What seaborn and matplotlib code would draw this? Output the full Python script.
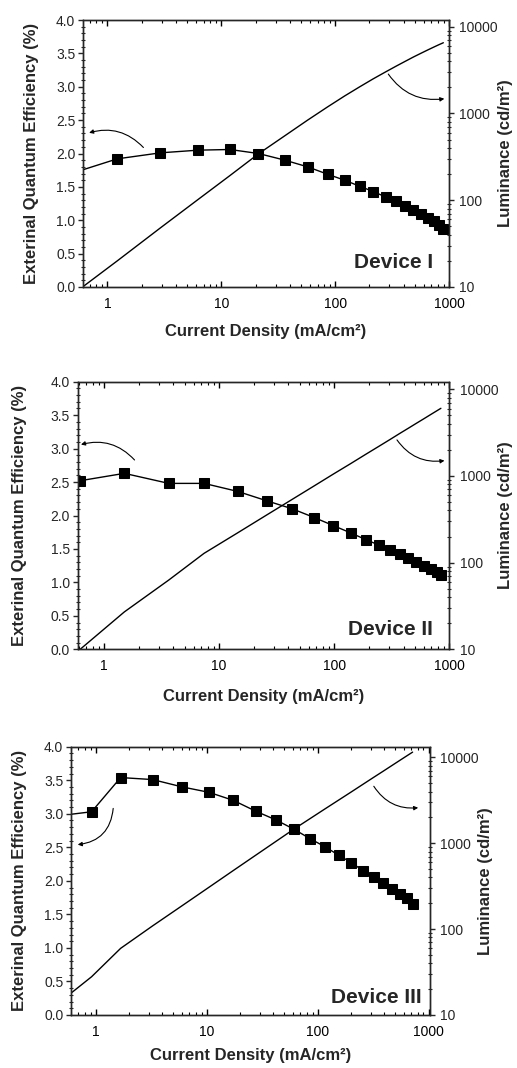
import numpy as np
import pandas as pd
import matplotlib
matplotlib.use('Agg')
import matplotlib.pyplot as plt
import matplotlib.ticker as mticker
import seaborn as sns

sns.set_style('ticks')
plt.rcParams['font.family'] = ['Liberation Sans', 'DejaVu Sans']
plt.rcParams['axes.linewidth'] = 1.0

# Device I
j1 = [0.5, 1.22, 2.92, 6.26, 11.9, 21.2, 36.2, 57.3, 85.7, 121, 164, 216, 277,
      342, 413, 487, 570, 655, 743, 822, 892]
eqe1 = [1.71, 1.92, 2.01, 2.05, 2.06, 2.00, 1.90, 1.80, 1.69, 1.60, 1.51, 1.43,
        1.35, 1.29, 1.22, 1.16, 1.09, 1.04, 0.99, 0.93, 0.87]
lum1 = [8.3, 20, 48, 102, 192, 342, 553, 836, 1186, 1585, 2020, 2500, 3000,
        3490, 3980, 4460, 4940, 5400, 5840, 6210, 6510]

# Device II
j2 = [0.62, 1.50, 3.65, 7.39, 14.5, 25.9, 43.2, 66.9, 98, 139, 188, 243, 303,
      370, 441, 518, 600, 691, 775, 845]
eqe2 = [2.52, 2.63, 2.48, 2.48, 2.36, 2.22, 2.10, 1.97, 1.85, 1.74, 1.64, 1.56,
        1.48, 1.42, 1.36, 1.31, 1.25, 1.20, 1.15, 1.11]
lum2 = [10, 27, 63, 128, 221, 355, 538, 768, 1050, 1390, 1780, 2190, 2620,
        3090, 3560, 4060, 4570, 5130, 5630, 6040]

# Device III
j3 = [0.52, 0.92, 1.68, 3.26, 6.04, 10.5, 17.4, 27.6, 41.9, 61.2, 85.3, 116,
      156, 202, 258, 322, 391, 468, 548, 634, 718]
eqe3 = [2.98, 3.03, 3.54, 3.51, 3.40, 3.32, 3.20, 3.04, 2.91, 2.77, 2.63, 2.51,
        2.38, 2.27, 2.15, 2.06, 1.97, 1.88, 1.81, 1.74, 1.66]
lum3 = [15.5, 27.9, 59.7, 109, 188, 307, 481, 723, 1045, 1460, 1930, 2500,
        3200, 3970, 4880, 5880, 6910, 8040, 9180, 10370, 11500]

devices = ['Device I', 'Device II', 'Device III']
xlabel = 'Current Density (mA/cm²)'
ylabel = 'Exterinal Quantum Efficiency (%)'
y2label = 'Luminance (cd/m²)'

# panel boxes in pixels: left, right, top, bottom
W, H = 517, 1068
boxes = [(83, 449, 20, 287), (77.7, 449.3, 381.7, 649.3), (71, 430, 746.7, 1015)]
xlims = [(0.61, 1000), (0.59, 1000), (0.6, 1030)]
y2lims = [(10, 11900), (10, 12250), (10, 13300)]
text_pos = [(0.956, 0.071), (0.957, 0.053), (0.977, 0.046)]
# label anchors in axes coords: (xlabel y, ylabel x, y2label x)
label_pos = [(-0.137, -0.119, 1.134), (-0.150, -0.136, 1.131), (-0.123, -0.1226, 1.1326)]
# arrows: (xytext, xy, rad) in data coords of EQE axis
arrows = [
    [((2.07, 2.09), (0.69, 2.31), 0.3), ((293, 3.19), (910, 2.82), 0.3)],
    [((1.84, 2.83), (0.63, 3.06), 0.3), ((351, 3.13), (908, 2.82), 0.3)],
    [((1.44, 3.08), (0.69, 2.54), -0.4), ((321, 3.41), (806, 3.09), 0.3)],
]

data = [(j1, eqe1, lum1), (j2, eqe2, lum2), (j3, eqe3, lum3)]

fig = plt.figure(figsize=(W / 100, H / 100), dpi=100)

for i, (j, eqe, lum) in enumerate(data):
    l, r, t, b = boxes[i]
    ax = fig.add_axes([l / W, 1 - b / H, (r - l) / W, (b - t) / H])
    ax.set_xscale('log')
    ax2 = ax.twinx()
    ax2.set_yscale('log')

    df = pd.DataFrame({'J': j, 'EQE': eqe, 'L': lum})
    sns.lineplot(data=df, x='J', y='L', ax=ax2, color='black', lw=1.0,
                 sort=False, estimator=None)
    sns.lineplot(data=df, x='J', y='EQE', ax=ax, color='black', lw=1.0,
                 marker='s', markersize=6.5, markeredgecolor='black',
                 sort=False, estimator=None)

    ax.set_xlim(*xlims[i])
    ax.set_ylim(0, 4)
    ax2.set_ylim(*y2lims[i])

    ax.xaxis.set_major_locator(mticker.FixedLocator([1, 10, 100, 1000]))
    ax.xaxis.set_major_formatter(mticker.FormatStrFormatter('%g'))
    ax.xaxis.set_minor_locator(mticker.LogLocator(base=10, subs=np.arange(2, 10)))
    ax.xaxis.set_minor_formatter(mticker.NullFormatter())
    ax.yaxis.set_major_locator(mticker.MultipleLocator(0.5))
    ax.yaxis.set_minor_locator(mticker.MultipleLocator(0.1))
    ax.yaxis.set_major_formatter(mticker.FormatStrFormatter('%.1f'))
    ax2.yaxis.set_major_locator(mticker.FixedLocator([10, 100, 1000, 10000]))
    ax2.yaxis.set_major_formatter(mticker.FormatStrFormatter('%g'))
    ax2.yaxis.set_minor_locator(mticker.LogLocator(base=10, subs=np.arange(2, 10)))
    ax2.yaxis.set_minor_formatter(mticker.NullFormatter())

    ax.tick_params(axis='x', which='both', direction='in', top=True,
                   labelsize=10, pad=7, colors='black')
    ax.tick_params(axis='x', which='major', length=4, width=1)
    ax.tick_params(axis='x', which='minor', length=2.5, width=0.8)
    ax.tick_params(axis='y', which='major', direction='out', length=3.5,
                   width=1, labelsize=10, pad=2)
    ax.tick_params(axis='y', which='minor', direction='inout', length=3,
                   width=0.8)
    ax2.tick_params(axis='y', which='major', direction='out', length=3.5,
                    width=1, labelsize=10, pad=4)
    ax2.tick_params(axis='y', which='minor', direction='inout', length=3,
                    width=0.8)

    ax.set_xlabel(xlabel, fontsize=12, fontweight='bold')
    ax.set_ylabel(ylabel, fontsize=12, fontweight='bold')
    ax2.set_ylabel(y2label, fontsize=12, fontweight='bold')
    ax.xaxis.set_label_coords(0.5, label_pos[i][0])
    ax.yaxis.set_label_coords(label_pos[i][1], 0.5)
    ax2.yaxis.set_label_coords(label_pos[i][2], 0.5)

    ax.text(text_pos[i][0], text_pos[i][1], devices[i], transform=ax.transAxes,
            ha='right', va='baseline', fontsize=15, fontweight='bold')

    for start, end, rad in arrows[i]:
        ax.annotate('', xy=end, xytext=start,
                    arrowprops=dict(arrowstyle='-|>', color='black', lw=0.8,
                                    mutation_scale=6,
                                    connectionstyle=f'arc3,rad={rad}',
                                    shrinkA=0, shrinkB=0))

    ax.set_zorder(ax2.get_zorder() + 1)
    ax.patch.set_visible(False)

fig.savefig('out.png', dpi=100)
